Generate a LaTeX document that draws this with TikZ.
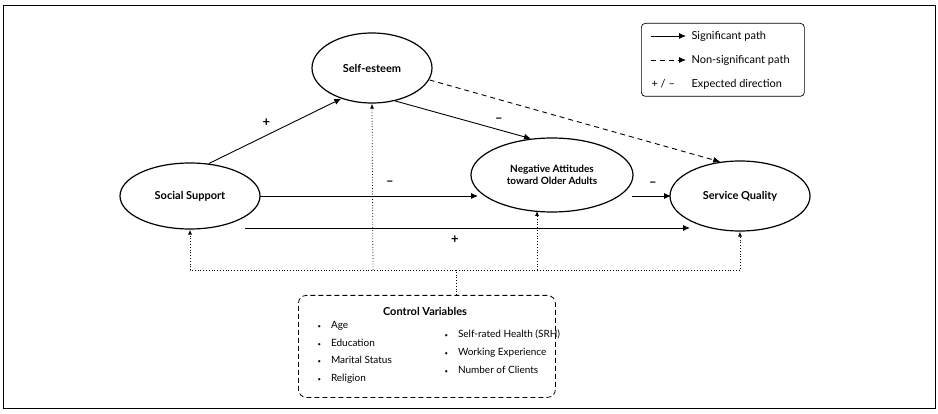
\documentclass[tikz,border=0pt]{standalone}
\usepackage{fontspec}
\setmainfont{Lato}
\usetikzlibrary{arrows.meta,shapes.geometric}
\newcommand{\bul}{{\fontsize{6}{6}\selectfont\textbullet}}
\begin{document}
\begin{tikzpicture}[x=1pt,y=-1pt,
  ell/.style={draw,line width=1.2pt,ellipse,font=\bfseries\fontsize{11}{13}\selectfont,align=center},
  sig/.style={-{Latex[length=7pt,width=6pt]},line width=0.9pt},
  ns/.style={sig,dash pattern=on 5pt off 4pt},
  ctl/.style={-{Latex[length=5pt,width=4pt]},dotted,line width=0.8pt},
  lab/.style={font=\fontsize{13}{14}\selectfont\bfseries},
  tx/.style={font=\fontsize{11}{13}\selectfont}]
\useasboundingbox (0,0) rectangle (938,414);
\node[draw,line width=0.8pt,minimum width=932pt,minimum height=403pt,anchor=north west] (frame) at (3,5) {};
\node[ell,minimum width=140pt,minimum height=66pt] (ss) at (190,196) {Social Support};
\node[ell,minimum width=120pt,minimum height=70pt] (se) at (372,68) {Self-esteem};
\node[ell,minimum width=162pt,minimum height=74pt,inner sep=0pt,font=\bfseries\fontsize{10}{12}\selectfont] (na) at (552,175) {Negative Attitudes\\toward Older Adults};
\node[ell,minimum width=140pt,minimum height=70pt] (sq) at (740,196) {Service Quality};
% paths
\draw[sig] (ss.60) -- (se.225) node[lab,midway,above left=1pt] {+};
\draw[sig] (se.-55) -- (na.120) node[lab,pos=0.7,above right=1pt] {–};
\draw[ns] (se.east) ++(-3,12) -- (sq.120);
\draw[sig] (260,196) -- (478,196);
\node[lab] (m1) at (390,183) {–};
\draw[sig] (632,196) -- (671,196);
\node[lab] (m2) at (653,184) {–};
\draw[sig] (245,228) -- (690,228);
\node[lab] (p1) at (455,240) {+};
% control
\node[draw,dash pattern=on 5pt off 3pt,rounded corners=8pt,line width=0.8pt,minimum width=257pt,minimum height=102pt,anchor=north west] (cv) at (298,295) {};
\node[font=\bfseries\fontsize{11}{13}\selectfont] (cvt) at (425,311) {Control Variables};
\node[anchor=north west,tx,font=\fontsize{10}{17.5}\selectfont,align=left] (cl) at (314,318) {\bul\quad Age\\\bul\quad Education\\\bul\quad Marital Status\\\bul\quad Religion};
\node[anchor=north west,tx,font=\fontsize{10}{18}\selectfont,align=left] (cr) at (441,326) {\bul\quad Self-rated Health (SRH)\\\bul\quad Working Experience\\\bul\quad Number of Clients};
\coordinate (h0) at (456,270);
\draw[dotted,line width=0.8pt] (cv.north-|h0) -- (h0);
\draw[ctl] (h0) -| (ss.south);
\draw[ctl] (h0) -| (sq.south);
\draw[ctl] (373,270) -- (se.south);
\draw[ctl] (537,270) -- (537,211);
% legend
\node[draw,rounded corners=4pt,line width=0.7pt,minimum width=163pt,minimum height=73pt,anchor=north west] (lg) at (641,23) {};
\coordinate (l1) at (651,36); \coordinate (l1e) at (686,36);
\draw[sig,line width=0.8pt] (l1) -- (l1e);
\node[anchor=west,tx] (t1) at (688,36) {Significant path};
\coordinate (l2) at (651,60); \coordinate (l2e) at (686,60);
\draw[ns,line width=0.8pt] (l2) -- (l2e);
\node[anchor=west,tx] (t2) at (688,60) {Non-significant path};
\node[anchor=west,tx] (t3a) at (648,84) {+ / --};
\node[anchor=west,tx] (t3) at (688,84) {Expected direction};
\end{tikzpicture}
\end{document}
